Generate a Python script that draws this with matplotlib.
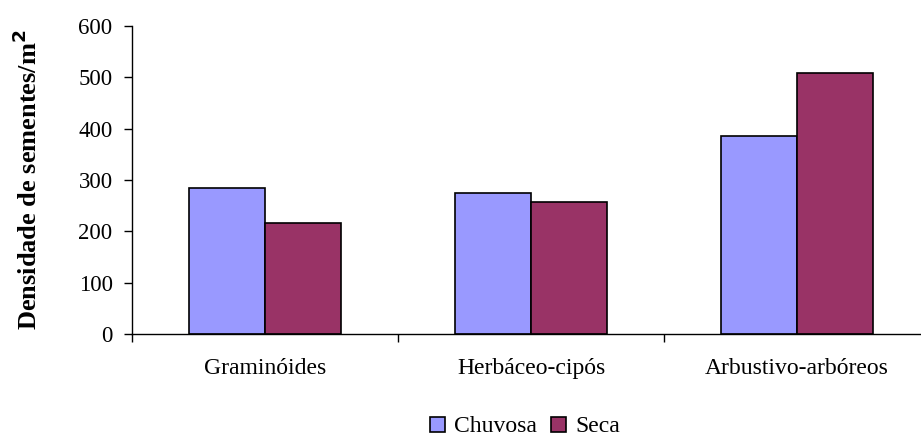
import numpy as np
import matplotlib
matplotlib.use('Agg')
import matplotlib.pyplot as plt
import matplotlib.patches as mpatches

# ── DATA ─────────────────────────────────────
categorias = ["Graminóides", "Herbáceo-cipós", "Arbustivo-arbóreos"]
chuvosa = [284, 275, 385]
seca = [217, 257, 509]
series_labels = ["Chuvosa", "Seca"]

CORES = {"Chuvosa": "#9999FF", "Seca": "#993366"}

plt.rcParams['font.family'] = ['Liberation Serif', 'DejaVu Serif']

fig = plt.figure(figsize=(9.21, 4.37), dpi=100)
fig.patch.set_facecolor('white')
W, H = 921, 437
# axes: left 132px, right 930px (cut off), top 26px, bottom 334px
ax = fig.add_axes([132 / W, 1 - 334 / H, 798 / W, 308 / H])

x = np.arange(len(categorias))
bw = 76 / 266

ax.bar(x - bw / 2, chuvosa, bw, color=CORES["Chuvosa"],
       edgecolor='black', linewidth=1.2, label=series_labels[0])
ax.bar(x + bw / 2, seca, bw, color=CORES["Seca"],
       edgecolor='black', linewidth=1.2, label=series_labels[1])

ax.set_xlim(-0.5, len(categorias) - 0.5)
ax.set_ylim(0, 600)
ax.set_yticks(range(0, 601, 100))
ax.tick_params(axis='y', direction='out', length=6, width=1,
               labelsize=16.5, pad=8)

# category labels centred, ticks at category boundaries
ax.set_xticks(x)
ax.set_xticklabels(categorias, fontsize=17)
ax.tick_params(axis='x', which='major', length=0, pad=17)
ax.set_xticks(np.arange(-0.5, len(categorias) + 0.5, 1), minor=True)
ax.tick_params(axis='x', which='minor', direction='out', length=6, width=1)

for s in ['top', 'right']:
    ax.spines[s].set_visible(False)
for s in ['left', 'bottom']:
    ax.spines[s].set_linewidth(1)

ax.set_ylabel('Densidade de sementes/m$^\\mathbf{2}$', fontsize=19,
              fontweight='bold')
ax.yaxis.set_label_coords(-90 / 798, 0.5)

handles = [mpatches.Patch(facecolor=CORES[s], edgecolor='black',
                          linewidth=1.2, label=s) for s in series_labels]
fig.legend(handles=handles, loc='center', bbox_to_anchor=(525 / W, 1 - 427 / H),
           ncol=2, frameon=False, fontsize=17, handlelength=0.62,
           handleheight=0.62, handletextpad=0.4, columnspacing=0.6)

fig.savefig('out.png', dpi=100, facecolor='white')
